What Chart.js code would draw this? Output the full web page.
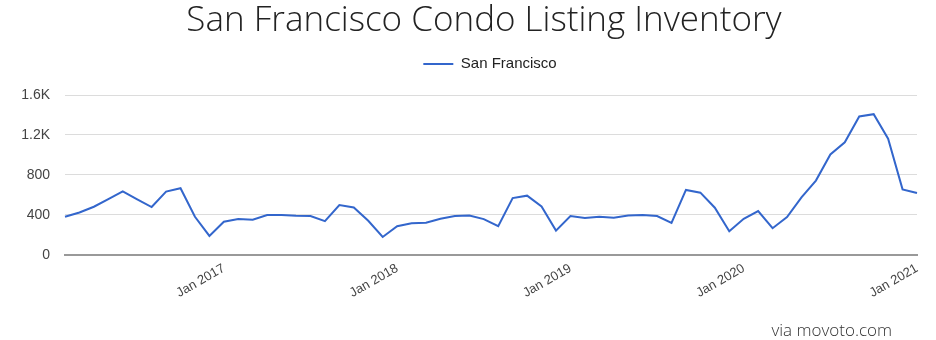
<!DOCTYPE html>
<html>
<head>
<meta charset="utf-8">
<script src="https://cdn.jsdelivr.net/npm/chart.js@4.4.1/dist/chart.umd.min.js"></script>
<style>
  body { margin: 0; background: #fff; }
  #wrap { width: 936px; height: 340px; position: relative; }
</style>
</head>
<body>
<div id="wrap"><canvas id="inventory"></canvas></div>
<script>
const monthNames = ['Jan','Feb','Mar','Apr','May','Jun','Jul','Aug','Sep','Oct','Nov','Dec'];
const firstYear = 2016, firstMonth = 1; // Feb 2016
const monthCount = 60;

// one label per month, Feb 2016 .. Jan 2021
const months = [];
for (let i = 0; i < monthCount; i++) {
    const m = (firstMonth + i) % 12;
    const y = firstYear + Math.floor((firstMonth + i) / 12);
    months.push(monthNames[m] + ' ' + y);
}

const listings = [
    380, 423, 481, 558, 635, 555, 478, 632, 666, 380, 188,
    330, 357, 350, 397, 397, 390, 387, 336, 498, 474, 340, 178,
    286, 316, 320, 360, 387, 393, 357, 286, 568, 592, 484, 242,
    387, 367, 380, 370, 393, 397, 388, 320, 649, 622, 471, 236,
    360, 437, 266, 377, 575, 743, 1005, 1126, 1385, 1408, 1163, 655,
    619
];

const yTicks = [0, 400, 800, 1200, 1600];
const lineColor = '#3366cc';
const gridColor = '#dcdcdc';
const arial = 'Liberation Sans, Arial, sans-serif';

const isJan = (i) => months[i] && months[i].startsWith('Jan');

// nudge title and legend so they sit over the plot rather than the canvas
const boxNudge = {
    id: 'boxNudge',
    afterLayout(chart) {
        const t = chart.titleBlock, l = chart.legend;
        t.left += 18; t.right += 18;
        l.left += 24; l.right += 24;
        l.top -= 13.5; l.bottom -= 13.5;
    }
};

// small credit line under the chart
const creditText = {
    id: 'creditText',
    afterDraw(chart) {
        const ctx = chart.ctx;
        ctx.save();
        ctx.font = '300 17px "Open Sans"';
        ctx.fillStyle = '#333';
        ctx.textAlign = 'right';
        ctx.textBaseline = 'alphabetic';
        ctx.fillText('via movoto.com', 892, 336);
        ctx.restore();
    }
};

new Chart(document.getElementById('inventory').getContext('2d'), {
    type: 'line',
    data: {
        labels: months,
        datasets: [{
            label: 'San Francisco',
            data: listings,
            borderColor: lineColor,
            backgroundColor: lineColor,
            borderWidth: 2,
            pointRadius: 0,
            tension: 0
        }]
    },
    options: {
        responsive: true,
        maintainAspectRatio: false,
        animation: false,
        layout: { padding: { left: 15, right: 19, top: 0, bottom: 33 } },
        plugins: {
            title: {
                display: true,
                text: 'San Francisco Condo Listing Inventory',
                color: '#222',
                font: { family: 'Open Sans', size: 35, weight: 300 },
                padding: { top: 0, bottom: 18 }
            },
            legend: {
                labels: {
                    color: '#222',
                    font: { family: arial, size: 15 },
                    usePointStyle: true,
                    pointStyle: 'line',
                    pointStyleWidth: 30,
                    padding: 10
                }
            },
            tooltip: { enabled: false }
        },
        scales: {
            x: {
                offset: false,
                grid: {
                    drawTicks: false,
                    color: (c) => isJan(c.index) ? gridColor : 'rgba(0,0,0,0)'
                },
                border: { color: '#999', width: 2 },
                ticks: {
                    autoSkip: false,
                    minRotation: 30,
                    maxRotation: 30,
                    padding: 6,
                    color: '#444',
                    font: { family: arial, size: 13 },
                    callback: (v, i) => isJan(i) ? months[i] : null
                }
            },
            y: {
                min: 0,
                max: 1600,
                afterFit: (scale) => { scale.width = 50; },
                afterBuildTicks: (scale) => { scale.ticks = yTicks.map(v => ({ value: v })); },
                grid: { drawTicks: false, color: gridColor },
                border: { display: false },
                ticks: {
                    padding: 15,
                    color: '#444',
                    font: { family: arial, size: 14 },
                    callback: (v) => v >= 1000 ? (v / 1000) + 'K' : v
                }
            }
        }
    },
    plugins: [boxNudge, creditText]
});
</script>
</body>
</html>
